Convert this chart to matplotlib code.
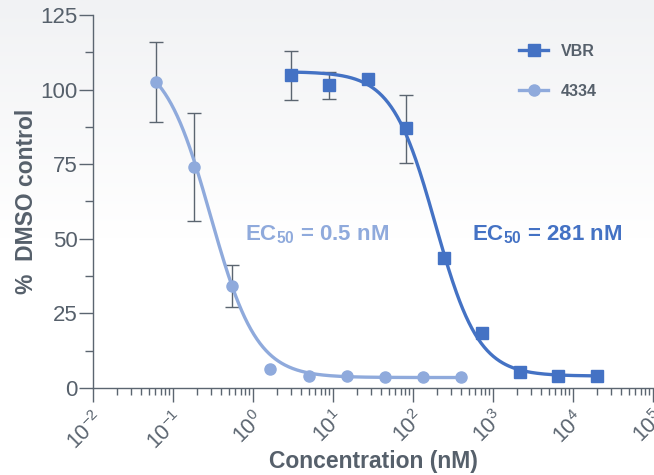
#!/usr/bin/env python3
"""Dose-response curves: VBR vs 4334 (% DMSO control)."""
import numpy as np
import matplotlib
matplotlib.use("Agg")
import matplotlib.pyplot as plt
from matplotlib.transforms import ScaledTranslation
from matplotlib.ticker import LogLocator, MultipleLocator, NullFormatter

plt.rcParams["font.family"] = ["Liberation Sans", "DejaVu Sans"]
plt.rcParams["mathtext.fontset"] = "custom"
plt.rcParams["mathtext.rm"] = "Liberation Sans"
plt.rcParams["mathtext.bf"] = "Liberation Sans:bold"

C_VBR = "#4472C4"
C_4334 = "#8FAADC"
C_AXIS = "#5B6570"
C_TEXT = "#56606B"

# --- data ---
conc_4334 = [0.061, 0.183, 0.549, 1.65, 4.94, 14.8, 44.5, 133, 400]
resp_4334 = [102.5, 74.0, 34.3, 6.4, 4.0, 4.0, 3.6, 3.7, 3.7]
err_lo_4334 = [89.0, 56.0, 27.3, None, None, None, None, None, None]
err_hi_4334 = [116.0, 92.0, 41.2, None, None, None, None, None, None]

conc_vbr = [3.0, 9.0, 27.0, 81.0, 243, 729, 2187, 6561, 19683]
resp_vbr = [105.0, 101.5, 103.5, 87.0, 43.7, 18.4, 5.2, 4.1, 4.0]
err_lo_vbr = [96.5, 96.8, None, 75.4, None, None, None, None, None]
err_hi_vbr = [113.0, 106.0, None, 98.3, None, None, None, None, None]

# 4-parameter logistic fit parameters (bottom, top, mid, hill) as drawn
fit_4334 = (3.5, 112.0, 0.294, 1.5)
fit_vbr = (4.0, 106.0, 190.0, 1.6)

x_ticks = [1e-2, 1e-1, 1e0, 1e1, 1e2, 1e3, 1e4, 1e5]
x_ticklabels = [r"$\mathregular{10^{%d}}$" % p for p in range(-2, 6)]
y_ticks = [0, 25, 50, 75, 100, 125]


def four_pl(x, params):
    bottom, top, mid, hill = params
    return bottom + (top - bottom) / (1 + (x / mid) ** hill)


def errbars(ax, xs, lo, hi):
    for x, a, b in zip(xs, lo, hi):
        if a is None:
            continue
        ax.errorbar([x], [(a + b) / 2], yerr=[[(b - a) / 2], [(b - a) / 2]],
                    fmt="none", ecolor=C_AXIS, elinewidth=1.0, capsize=5,
                    capthick=1.0, zorder=2)


fig = plt.figure(figsize=(6.54, 4.75), dpi=100)

# soft gray-to-white background
bg = fig.add_axes([0, 0, 1, 1], zorder=-10)
grad = np.linspace(1, 0, 256).reshape(-1, 1)
bg.imshow(grad, aspect="auto", cmap=matplotlib.colors.LinearSegmentedColormap.from_list(
    "bg", ["#FFFFFF", "#FFFFFF", "#F1F2F4"]), extent=[0, 1, 0, 1])
bg.axis("off")

ax = fig.add_axes([0.1422, 0.1832, 0.8563, 0.7853])
ax.patch.set_alpha(0)

errbars(ax, conc_4334, err_lo_4334, err_hi_4334)
errbars(ax, conc_vbr, err_lo_vbr, err_hi_vbr)

xs = np.logspace(np.log10(conc_4334[0]), np.log10(conc_4334[-1]), 300)
ax.plot(xs, four_pl(xs, fit_4334), color=C_4334, lw=2.4, zorder=3)
xs = np.logspace(np.log10(conc_vbr[0]), np.log10(conc_vbr[-1]), 300)
ax.plot(xs, four_pl(xs, fit_vbr), color=C_VBR, lw=2.4, zorder=3)

ax.plot(conc_4334, resp_4334, "o", color=C_4334, ms=8, zorder=4)
ax.plot(conc_vbr, resp_vbr, "s", color=C_VBR, ms=8.5, zorder=4)

ax.set_xscale("log")
ax.set_xlim(1e-2, 1e5)
ax.set_ylim(0, 125)
ax.set_xticks(x_ticks)
ax.set_xticklabels(x_ticklabels, rotation=45, ha="right", va="top",
                   rotation_mode="anchor", fontsize=15.5, color=C_TEXT)
shift = ScaledTranslation(-3 / 100, -2 / 100, fig.dpi_scale_trans)
for lbl in ax.get_xticklabels():
    lbl.set_transform(lbl.get_transform() + shift)
ax.xaxis.set_minor_locator(LogLocator(base=10, subs=np.arange(2, 10), numticks=20))
ax.xaxis.set_minor_formatter(NullFormatter())
ax.set_yticks(y_ticks)
ax.yaxis.set_minor_locator(MultipleLocator(12.5))
ax.tick_params(axis="y", labelsize=16, colors=C_AXIS, labelcolor=C_TEXT,
               length=10, width=1.0, pad=1)
ax.tick_params(axis="y", which="minor", length=6, width=1.0, colors=C_AXIS)
ax.tick_params(axis="x", which="major", length=10, width=1.0, colors=C_AXIS, pad=4)
ax.tick_params(axis="x", which="minor", length=5, width=1.0, colors=C_AXIS)

for side in ("top", "right"):
    ax.spines[side].set_visible(False)
for side in ("left", "bottom"):
    ax.spines[side].set_color(C_AXIS)
    ax.spines[side].set_linewidth(1.0)

ax.set_xlabel("Concentration (nM)", fontsize=16.5, weight="bold", color=C_TEXT)
ax.xaxis.set_label_coords(0.5, -0.196)
ax.xaxis.label.set_va("center")
ax.set_ylabel("%  DMSO control", fontsize=16.5, weight="bold", color=C_TEXT)
ax.yaxis.set_label_coords(-0.118, 0.5)
ax.yaxis.label.set_va("center")

ax.text(0.79, 51.5, r"EC$_{\mathbf{50}}$ = 0.5 nM", fontsize=16, weight="bold",
        color=C_4334, ha="left", va="center")
ax.text(550, 51.5, r"EC$_{\mathbf{50}}$ = 281 nM", fontsize=16, weight="bold",
        color=C_VBR, ha="left", va="center")

h1, = ax.plot([], [], "-s", color=C_VBR, lw=2.4, ms=8)
h2, = ax.plot([], [], "-o", color=C_4334, lw=2.4, ms=8)
fig.legend([h1, h2], ["VBR", "4334"], loc="upper left",
           bbox_to_anchor=(0.772, 0.938), frameon=False, handlelength=1.8,
           labelspacing=1.55, prop={"weight": "bold", "size": 11.5},
           labelcolor=C_TEXT)

fig.savefig("out.png", dpi=100)
